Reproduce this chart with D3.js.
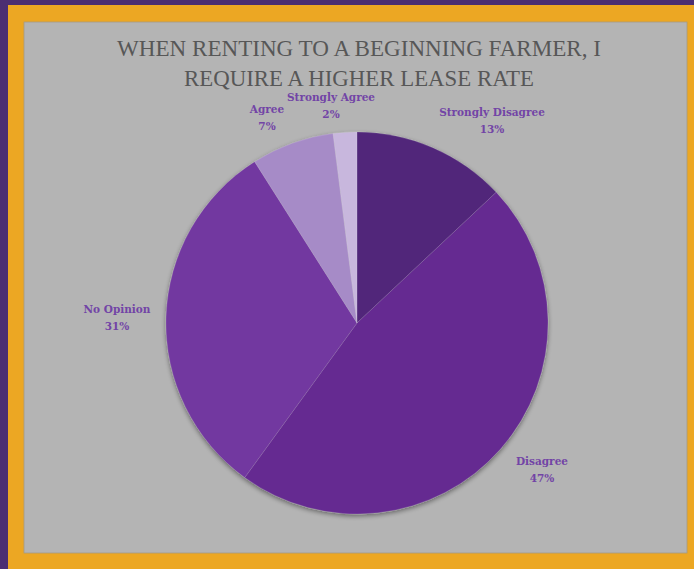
<!DOCTYPE html>
<html>
<head>
<meta charset="utf-8">
<script src="https://cdn.jsdelivr.net/npm/d3@7"></script>
<style>
  html, body { margin: 0; padding: 0; background: #4b2e72; }
  svg { display: block; }
</style>
</head>
<body>
<svg id="chart" width="694" height="569"></svg>
<script>
// ---- data ----
const categories = ["Strongly Disagree", "Disagree", "No Opinion", "Agree", "Strongly Agree"];
const values = [13, 47, 31, 7, 2];
const percentLabels = ["13%", "47%", "31%", "7%", "2%"];
const titleLines = ["WHEN RENTING TO A BEGINNING FARMER, I", "REQUIRE A HIGHER LEASE RATE"];

// ---- layout / style ----
const W = 694, H = 569;
const colors = ["#51277a", "#652b91", "#7237a0", "#a68bc7", "#c8b7dd"];
const cx = 357, cy = 323, R = 191;
// label anchor positions (label line 1 center) – layout only
const labelPos = [[492, 112], [542, 461], [117, 309], [267, 109], [331, 97]];

const svg = d3.select("#chart");

// frame
svg.append("rect").attr("x", 0).attr("y", 0).attr("width", W).attr("height", H).attr("fill", "#4b2e72");
svg.append("rect").attr("x", 8).attr("y", 5).attr("width", W - 8).attr("height", H - 5).attr("fill", "#eca723");
svg.append("rect").attr("x", 24).attr("y", 22).attr("width", 663).attr("height", 531).attr("fill", "#b4b4b4")
   .attr("stroke", "#a59a80").attr("stroke-width", 0.8);

// title
const title = svg.append("g").attr("font-family", "'Liberation Serif', 'Times New Roman', serif")
  .attr("fill", "#575757").attr("font-size", 24).attr("text-anchor", "middle");
title.append("text").attr("x", 359).attr("y", 56).attr("textLength", 484).attr("lengthAdjust", "spacingAndGlyphs").text(titleLines[0]);
title.append("text").attr("x", 359).attr("y", 86).attr("textLength", 350).attr("lengthAdjust", "spacingAndGlyphs").text(titleLines[1]);

// shadow filter
const defs = svg.append("defs");
const f = defs.append("filter").attr("id", "sh").attr("x", "-10%").attr("y", "-10%").attr("width", "120%").attr("height", "125%");
f.append("feGaussianBlur").attr("in", "SourceAlpha").attr("stdDeviation", 2.5);
f.append("feOffset").attr("dx", 0).attr("dy", 2).attr("result", "b");
f.append("feComponentTransfer").append("feFuncA").attr("type", "linear").attr("slope", 0.45);
const m = f.append("feMerge");
m.append("feMergeNode");
m.append("feMergeNode").attr("in", "SourceGraphic");

// pie
const pie = d3.pie().sort(null).value(d => d)(values);
const arc = d3.arc().innerRadius(0).outerRadius(R);
const g = svg.append("g").attr("transform", `translate(${cx},${cy})`).attr("filter", "url(#sh)");
g.selectAll("path").data(pie).join("path")
  .attr("d", arc)
  .attr("fill", (d, i) => colors[i])
  .attr("stroke", "rgba(255,255,255,0.12)")
  .attr("stroke-width", 1);

// labels
const lab = svg.append("g").attr("font-family", "'DejaVu Serif', serif")
  .attr("font-weight", "bold").attr("font-size", 10.5).attr("text-anchor", "middle").attr("fill", "#7244a6");
categories.forEach((c, i) => {
  const [x, y] = labelPos[i];
  const t = lab.append("text").attr("x", x).attr("y", y + 4);
  t.append("tspan").attr("x", x).text(c);
  t.append("tspan").attr("x", x).attr("dy", 17).text(percentLabels[i]);
});
</script>
</body>
</html>
